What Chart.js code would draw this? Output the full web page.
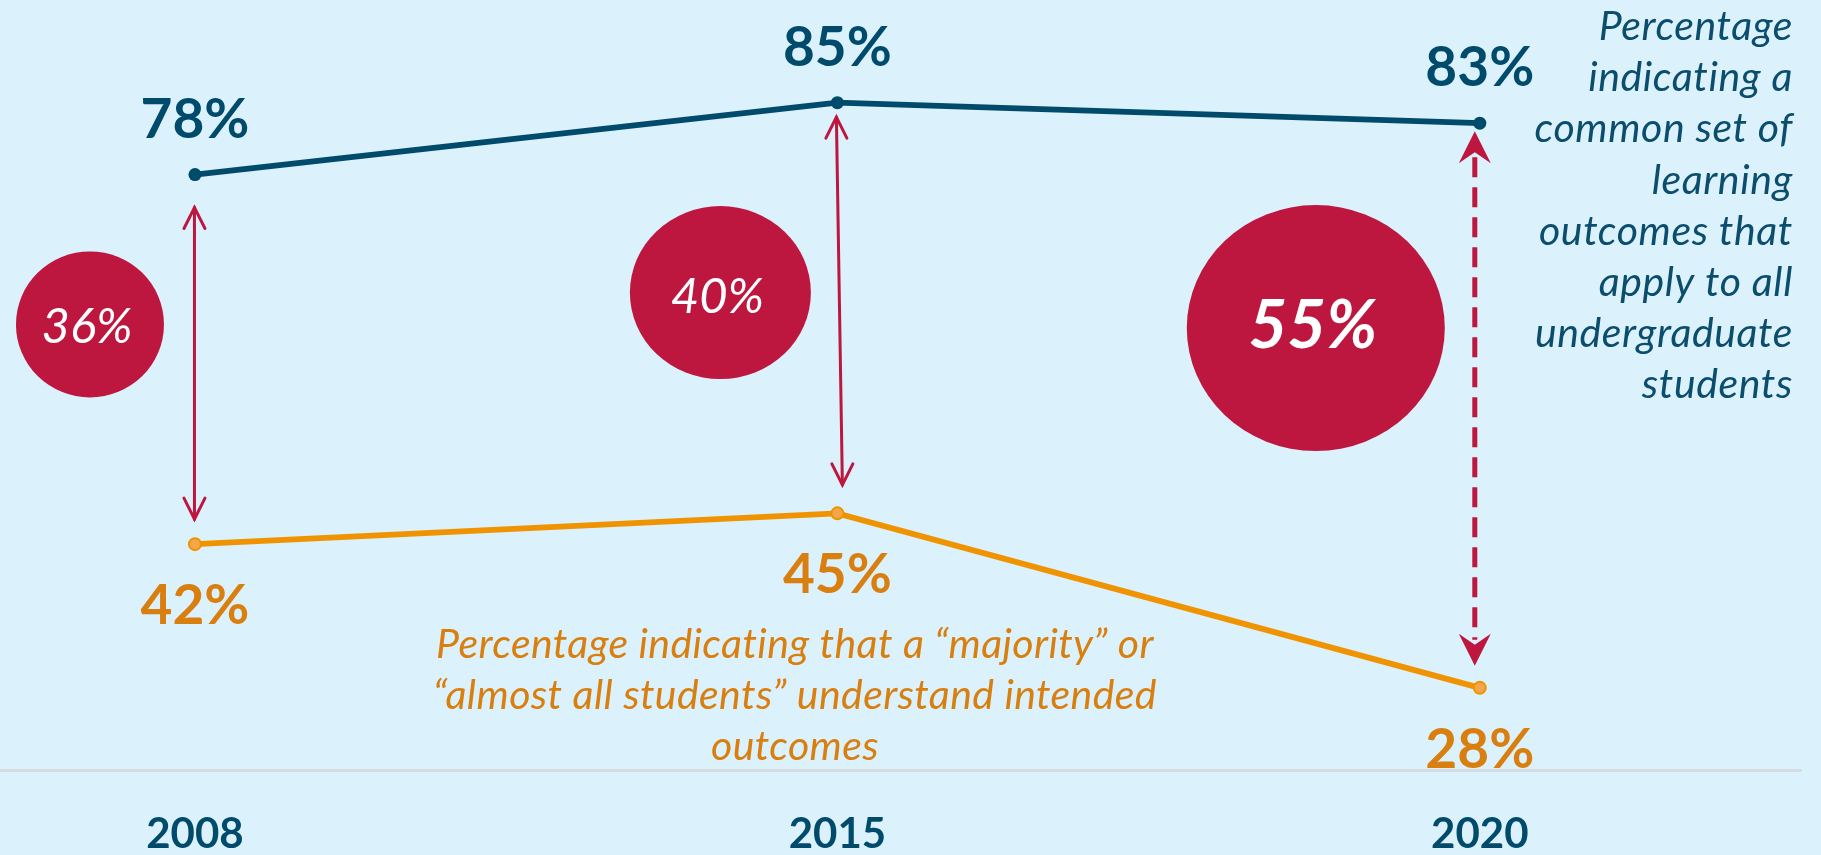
<!DOCTYPE html>
<html>
<head>
<meta charset="utf-8">
<script src="https://cdn.jsdelivr.net/npm/chart.js@4.4.1/dist/chart.umd.min.js"></script>
<style>
  html, body { margin: 0; padding: 0; background: #dbf1fb; }
  .wrap { width: 1821px; height: 855px; position: relative; }
</style>
</head>
<body>
<div class="wrap"><canvas id="chart"></canvas></div>
<script>
const years = ['2008', '2015', '2020']
const commonOutcomes = [78, 85, 83]
const studentsUnderstand = [42, 45, 28]
const blueNote = ['Percentage', 'indicating a', 'common set of', 'learning', 'outcomes that', 'apply to all', 'undergraduate', 'students']
const orangeNote = ['Percentage indicating that a “majority” or', '“almost all students” understand intended', 'outcomes']

const blue = '#004b6b'
const orange = '#ef9400'
const orangeText = '#d97f10'
const red = '#be173f'

// open chevron head, tip at (x, y), pointing dir (1 down, -1 up)
function openHead(ctx, x, y, dir) {
  ctx.beginPath()
  ctx.moveTo(x - 10.5, y - dir * 21)
  ctx.lineTo(x, y)
  ctx.lineTo(x + 10.5, y - dir * 21)
  ctx.stroke()
}

function stealthHead(ctx, x, y, dir) {
  ctx.beginPath()
  ctx.moveTo(x, y)
  ctx.lineTo(x - 16, y - dir * 32)
  ctx.lineTo(x, y - dir * 21)
  ctx.lineTo(x + 16, y - dir * 32)
  ctx.closePath()
  ctx.fill()
}

const gapPlugin = {
  id: 'gaps',
  beforeDatasetsDraw(chart) {
    const { ctx, scales: { x, y } } = chart
    ctx.save()
    ctx.strokeStyle = red
    ctx.fillStyle = red
    ctx.lineCap = 'round'

    // 2008 arrow
    let ax = x.getPixelForValue(0) - 0.5
    let top = y.getPixelForValue(commonOutcomes[0]) + 33
    let bot = y.getPixelForValue(studentsUnderstand[0]) - 25
    ctx.lineWidth = 3
    ctx.beginPath(); ctx.moveTo(ax, top); ctx.lineTo(ax, bot); ctx.stroke()
    openHead(ctx, ax, top, -1)
    openHead(ctx, ax, bot, 1)

    // 2015 arrow (slightly slanted)
    let tx = x.getPixelForValue(1) - 1
    let bx = x.getPixelForValue(1) + 5
    top = y.getPixelForValue(commonOutcomes[1]) + 14.5
    bot = y.getPixelForValue(studentsUnderstand[1]) - 28.5
    ctx.beginPath(); ctx.moveTo(tx, top); ctx.lineTo(bx, bot); ctx.stroke()
    openHead(ctx, tx, top, -1)
    openHead(ctx, bx, bot, 1)

    // 2020 dashed arrow
    ax = x.getPixelForValue(2) - 5
    top = y.getPixelForValue(commonOutcomes[2]) + 8
    bot = y.getPixelForValue(studentsUnderstand[2]) - 22
    ctx.lineWidth = 5
    ctx.lineCap = 'butt'
    ctx.setLineDash([20, 10])
    ctx.beginPath(); ctx.moveTo(ax, top + 26); ctx.lineTo(ax, bot - 26); ctx.stroke()
    ctx.setLineDash([])
    stealthHead(ctx, ax, top, -1)
    stealthHead(ctx, ax, bot, 1)

    // gap bubbles
    const bubbles = [
      { dx: -105, v: 63.4, rx: 74, ry: 73, font: 'italic 49px Lato', base: 19 },
      { dx: -117, v: 66.5, rx: 90.5, ry: 86.5, font: 'italic 49px Lato', base: 20 },
      { dx: -164, v: 63.05, rx: 129, ry: 123, font: 'italic bold 67px Lato', base: 20 }
    ]
    bubbles.forEach((b, i) => {
      const cx = x.getPixelForValue(i) + b.dx
      const cy = y.getPixelForValue(b.v)
      ctx.fillStyle = red
      ctx.beginPath()
      ctx.ellipse(cx, cy, b.rx, b.ry, 0, 0, Math.PI * 2)
      ctx.fill()
      ctx.fillStyle = '#ffffff'
      ctx.font = b.font
      ctx.textAlign = 'center'
      ctx.textBaseline = 'alphabetic'
      ctx.fillText((commonOutcomes[i] - studentsUnderstand[i]) + '%', cx - 3, cy + b.base)
    })
    ctx.restore()
  },
  afterDatasetsDraw(chart) {
    const { ctx, scales: { x, y } } = chart
    ctx.save()
    ctx.textAlign = 'center'
    ctx.textBaseline = 'alphabetic'
    ctx.font = 'bold 55px Lato'
    ctx.fillStyle = blue
    commonOutcomes.forEach((v, i) => {
      ctx.fillText(v + '%', x.getPixelForValue(i), y.getPixelForValue(v) - 37)
    })
    ctx.fillStyle = orangeText
    studentsUnderstand.forEach((v, i) => {
      ctx.fillText(v + '%', x.getPixelForValue(i), y.getPixelForValue(v) + 80)
    })

    // series notes
    ctx.font = 'italic 41px Lato'
    ctx.letterSpacing = '0.6px'
    ctx.fillStyle = '#0b4d6c'
    ctx.textAlign = 'right'
    blueNote.forEach((t, i) => ctx.fillText(t, 1793, 40 + i * 51.2))
    ctx.letterSpacing = '0.4px'
    ctx.fillStyle = orangeText
    ctx.textAlign = 'center'
    orangeNote.forEach((t, i) => ctx.fillText(t, 795, 658 + i * 51))
    ctx.restore()
  }
}

new Chart(document.getElementById('chart'), {
  type: 'line',
  data: {
    datasets: [{
      label: 'Common set of learning outcomes',
      data: commonOutcomes.map((v, i) => ({ x: i, y: v })),
      borderColor: blue,
      backgroundColor: blue,
      borderWidth: 5.8,
      pointRadius: 6.5,
      pointBorderWidth: 0,
      pointBackgroundColor: blue,
      tension: 0
    }, {
      label: 'Students understand intended outcomes',
      data: studentsUnderstand.map((v, i) => ({ x: i, y: v })),
      borderColor: orange,
      backgroundColor: '#f2a84a',
      borderWidth: 5.8,
      pointRadius: 6,
      pointBorderWidth: 2,
      pointBorderColor: orange,
      pointBackgroundColor: '#f2a84a',
      tension: 0
    }]
  },
  options: {
    responsive: true,
    maintainAspectRatio: false,
    animation: false,
    layout: { autoPadding: false, padding: { left: 0, right: 20, top: 0, bottom: 0 } },
    plugins: {
      legend: { display: false },
      tooltip: { enabled: false }
    },
    scales: {
      x: {
        type: 'linear',
        min: -0.3035,
        max: 2.5,
        afterBuildTicks: axis => { axis.ticks = years.map((_, i) => ({ value: i })) },
        afterFit: axis => { axis.height = 85 },
        grid: { display: false, drawTicks: false },
        border: { display: true, color: '#d4dde2', width: 3 },
        ticks: {
          padding: 39,
          autoSkip: false,
          maxRotation: 0,
          color: blue,
          font: { family: 'Lato', weight: 'bold', size: 42 },
          callback: value => years[value]
        }
      },
      y: {
        display: false,
        min: 20,
        max: 95
      }
    }
  },
  plugins: [gapPlugin]
})
</script>
</body>
</html>
